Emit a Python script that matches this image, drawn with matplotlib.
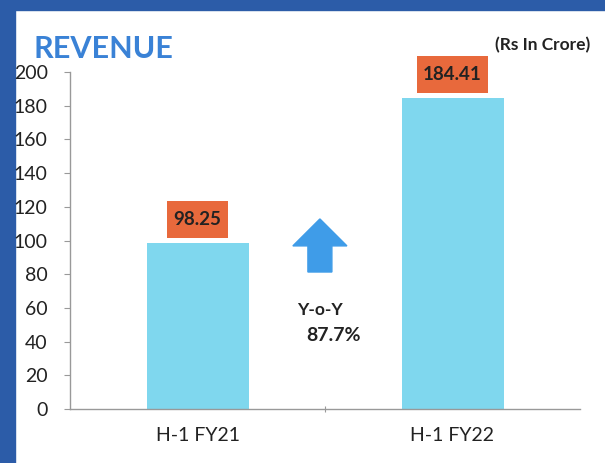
import matplotlib.pyplot as plt
from matplotlib.patches import Rectangle

# Data
categories = ['H-1 FY21', 'H-1 FY22']
revenue = [98.25, 184.41]
value_labels = ['98.25', '184.41']
yoy_label = 'Y-o-Y'
yoy_growth = '87.7%'
y_ticks = list(range(0, 201, 20))

BAR_COLOR = '#7fd7ee'
BOX_COLOR = '#e8693c'
ARROW_COLOR = '#3f9ce8'
TITLE_COLOR = '#3a82d6'
FRAME_COLOR = '#2c5ca8'
TEXT_COLOR = '#222222'

plt.rcParams['font.family'] = ['Lato', 'DejaVu Sans']

fig = plt.figure(figsize=(6.05, 4.63), dpi=100)
fig.patch.set_facecolor('white')

# blue frame on the left and top
fig.add_artist(Rectangle((0, 0), 15 / 605, 1, transform=fig.transFigure,
                         color=FRAME_COLOR, zorder=0))
fig.add_artist(Rectangle((0, 1 - 10 / 463), 1, 10 / 463, transform=fig.transFigure,
                         color=FRAME_COLOR, zorder=0))

ax = fig.add_axes([70 / 605, (463 - 409) / 463, 510 / 605, (409 - 72) / 463])
ax.set_facecolor('none')

x = list(range(len(categories)))
ax.bar(x, revenue, width=0.4, color=BAR_COLOR, zorder=2)

# value boxes (taller than wide padding)
for xi, val, lab in zip(x, revenue, value_labels):
    ax.annotate(lab, (xi, val), xytext=(0, 17), textcoords='offset points',
                ha='center', va='center', fontsize=13.5, fontweight='bold',
                color=TEXT_COLOR, zorder=4,
                bbox=dict(boxstyle='square,pad=0.35', fc=BOX_COLOR, ec='none',
                          mutation_aspect=1.5))

# growth arrow and text
ax.arrow(0.48, 81.3, 0, 31.5, width=0.094, head_width=0.212, head_length=16,
         length_includes_head=True, color=ARROW_COLOR, zorder=3)
ax.text(0.48, 58.8, yoy_label, ha='center', va='center', fontsize=12.5,
        fontweight='bold', color=TEXT_COLOR)
ax.text(0.535, 43.9, yoy_growth, ha='center', va='center', fontsize=14,
        fontweight='bold', color=TEXT_COLOR)

ax.set_xlim(-0.5, 1.5)
ax.set_ylim(0, 200)
ax.set_yticks(y_ticks)
ax.set_xticks([0.5])
ax.set_xticklabels([''])
for xi, cat in zip(x, categories):
    ax.text(xi, -16, cat, ha='center', va='center', fontsize=14, color=TEXT_COLOR)

ax.tick_params(axis='y', length=4, pad=12, labelsize=14, colors='#999999',
               labelcolor=TEXT_COLOR)
ax.tick_params(axis='x', length=4, colors='#999999', direction='inout')
for side in ['top', 'right']:
    ax.spines[side].set_visible(False)
for side in ['left', 'bottom']:
    ax.spines[side].set_color('#999999')
    ax.spines[side].set_linewidth(1)

fig.text(34 / 605, 1 - 49 / 463, 'REVENUE', ha='left', va='center', fontsize=22,
         fontweight='bold', color=TITLE_COLOR)
fig.text(590 / 605, 1 - 45 / 463, '(Rs In Crore)', ha='right', va='center',
         fontsize=12.5, fontweight='bold', color=TEXT_COLOR)

fig.savefig('out.png', dpi=100)
